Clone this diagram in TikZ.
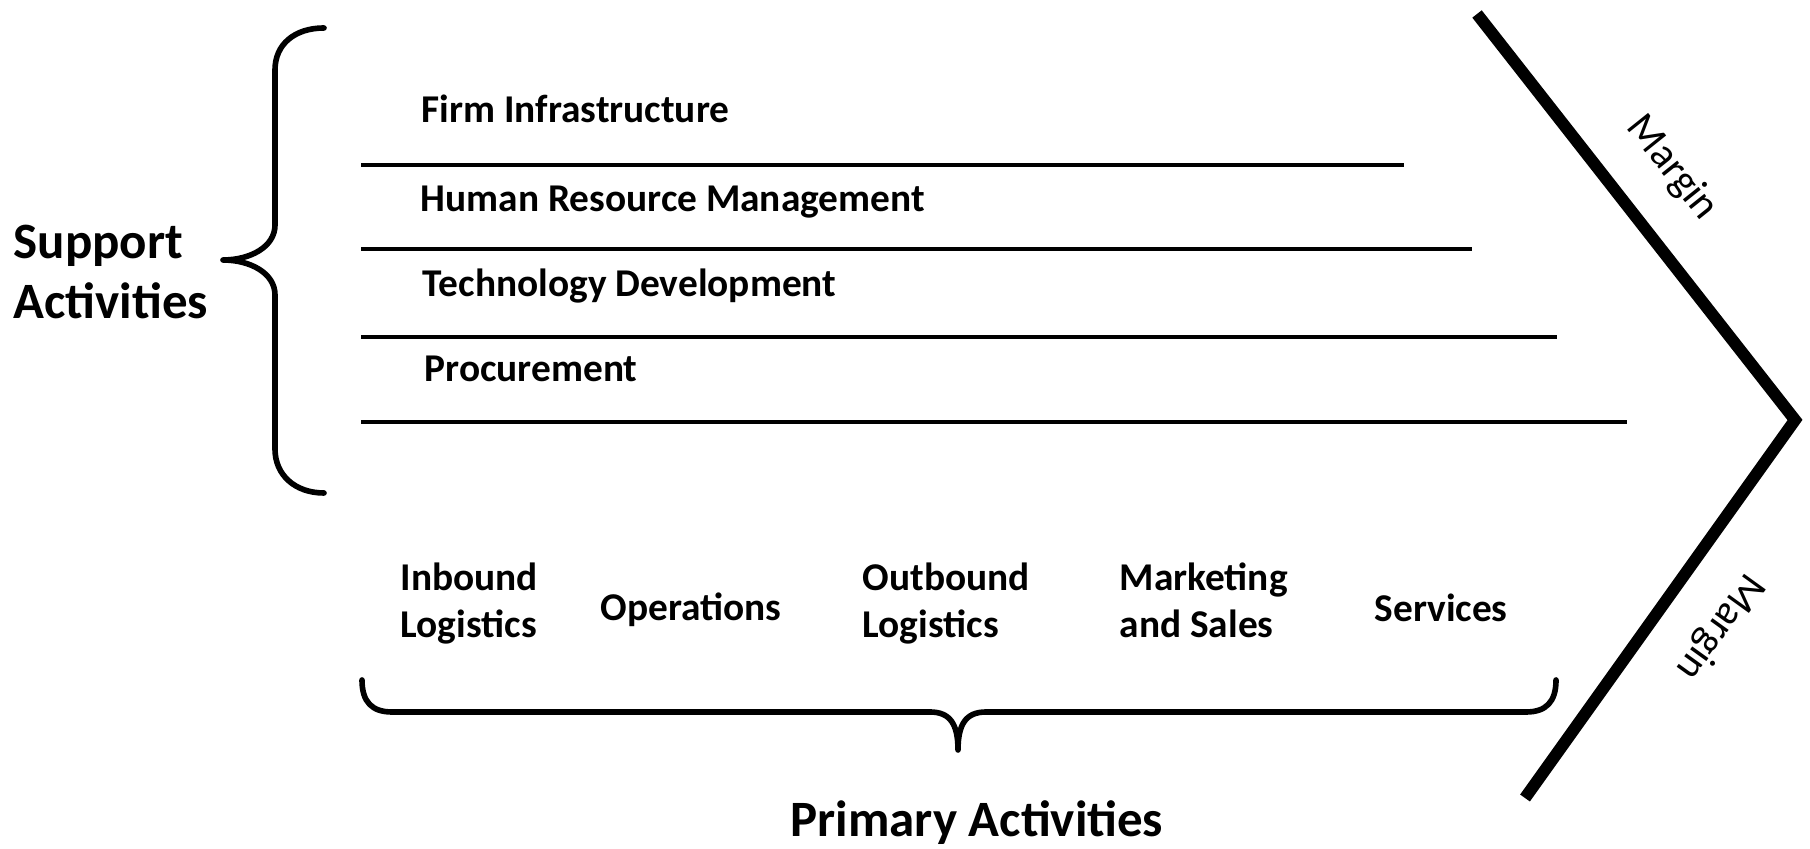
\documentclass[tikz,border=0pt]{standalone}
\usepackage{fontspec}
\setmainfont{Carlito}

\begin{document}
\begin{tikzpicture}[
    label/.style={font=\bfseries\fontsize{11.2}{13.4}\selectfont, inner sep=0pt, align=left},
    heading/.style={font=\bfseries\fontsize{14.5}{17.1}\selectfont, inner sep=0pt, align=left},
    marginlabel/.style={font=\fontsize{11.9}{14}\selectfont, inner sep=0pt},
    brace/.style={line width=1.6pt, line cap=round, line join=round},
    rowline/.style={line width=1pt}
  ]
  \useasboundingbox (0,0) rectangle (18.10,8.49);

  % Draw the support activity rows
  \node[label, anchor=base west] (firm) at (4.21,7.26) {Firm Infrastructure};
  \node[label, anchor=base west] (hrm) at (4.20,6.37) {Human Resource Management};
  \node[label, anchor=base west] (tech) at (4.22,5.52) {Technology Development};
  \node[label, anchor=base west] (proc) at (4.24,4.67) {Procurement};
  \draw[rowline] (3.61,6.84) -- (14.04,6.84);
  \draw[rowline] (3.61,6.00) -- (14.72,6.00);
  \draw[rowline] (3.61,5.12) -- (15.57,5.12);
  \draw[rowline] (3.61,4.27) -- (16.27,4.27);

  % Draw the brace of the support activities and label it
  \draw[brace] (3.24,8.21) .. controls (2.95,8.21) and (2.75,8.05) .. (2.75,7.79)
    -- (2.75,6.24) .. controls (2.75,6.02) and (2.50,5.89) .. (2.23,5.89)
    .. controls (2.50,5.89) and (2.75,5.76) .. (2.75,5.54)
    -- (2.75,4.00) .. controls (2.75,3.74) and (2.95,3.56) .. (3.24,3.56);
  \node[heading, anchor=north west] (support) at (0.13,6.25) {Support\\Activities};

  % Draw the primary activities
  \node[label, anchor=north west] (inbound) at (4.00,2.87) {Inbound\\Logistics};
  \node[label, anchor=base west] (ops) at (6.00,2.28) {Operations};
  \node[label, anchor=north west] (outbound) at (8.62,2.87) {Outbound\\Logistics};
  \node[label, anchor=north west] (marketing) at (11.19,2.87) {Marketing\\and Sales};
  \node[label, anchor=base west] (services) at (13.74,2.27) {Services};

  % Draw the brace of the primary activities and label it
  \draw[brace] (3.62,1.69) .. controls (3.62,1.47) and (3.72,1.37) .. (3.92,1.37)
    -- (9.30,1.37) .. controls (9.50,1.37) and (9.58,1.25) .. (9.58,0.99)
    .. controls (9.58,1.25) and (9.66,1.37) .. (9.86,1.37)
    -- (15.26,1.37) .. controls (15.46,1.37) and (15.56,1.47) .. (15.56,1.69);
  \node[heading, anchor=base] (primary) at (9.77,0.12) {Primary Activities};

  % Draw the margin arrow
  \draw[line width=3.4pt, line join=miter] (14.77,8.35) -- (17.95,4.29) -- (15.25,0.51);
  \node[marginlabel, rotate=-51.3] (topmargin) at (16.72,6.81) {Margin};
  \node[marginlabel, rotate=-125.8] (bottommargin) at (17.20,2.22) {Margin};
\end{tikzpicture}
\end{document}
